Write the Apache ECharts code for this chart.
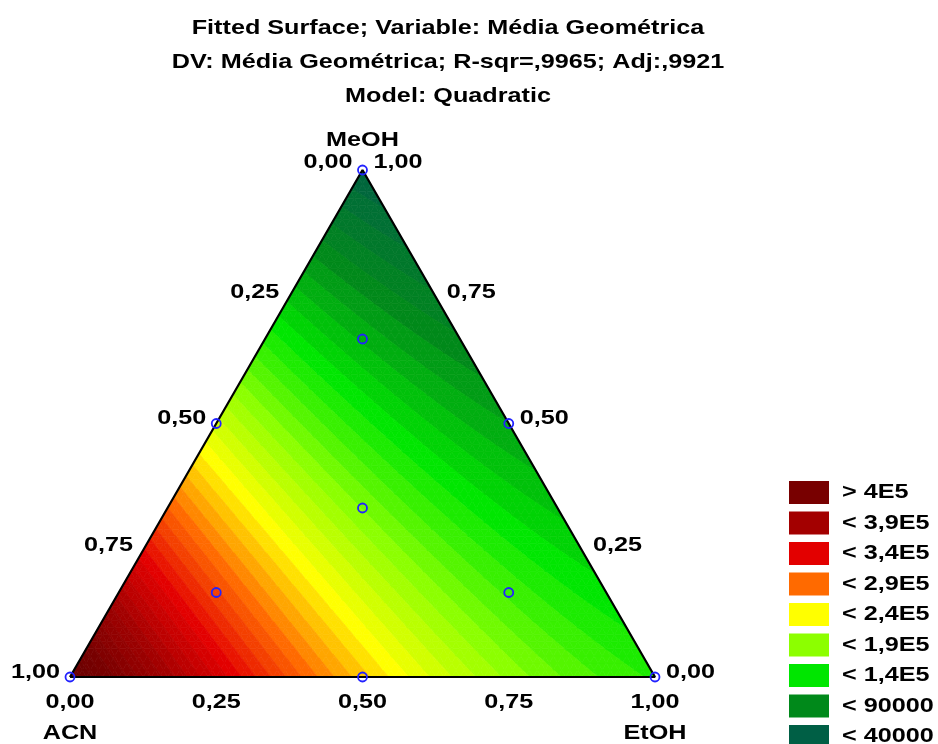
<!DOCTYPE html>
<html><head><meta charset="utf-8">
<script src="https://cdn.jsdelivr.net/npm/echarts@6/dist/echarts.min.js"></script>
<style>html,body{margin:0;padding:0;background:#fff}#c{width:938px;height:744px}</style>
</head><body><div id="c"></div>
<script>
// ---------------- data ----------------
const titleLines = ['Fitted Surface; Variable: Média Geométrica',
  'DV: Média Geométrica; R-sqr=,9965; Adj:,9921',
  'Model: Quadratic'];
const componentNames = ['ACN', 'EtOH', 'MeOH'];
const tickValues = [0, 0.25, 0.5, 0.75, 1];
const tickLabels = ['0,00', '0,25', '0,50', '0,75', '1,00'];
// estimated fitted values at the pure components: ACN, EtOH, MeOH
const vertexValues = [450000, 128000, 20000];
// estimated fitted values at the 50:50 blends: ACN-EtOH, ACN-MeOH, EtOH-MeOH
const blendValues = [234000, 194000, 80000];
// design points as fractions [ACN, EtOH, MeOH]
const designPoints = [[1,0,0],[0,1,0],[0,0,1],[0.5,0.5,0],[0.5,0,0.5],[0,0.5,0.5],
  [1/3,1/3,1/3],[2/3,1/6,1/6],[1/6,2/3,1/6],[1/6,1/6,2/3]];
const legendLabels = ['> 4E5','< 3,9E5','< 3,4E5','< 2,9E5','< 2,4E5','< 1,9E5','< 1,4E5','< 90000','< 40000'];
const legendColors = ['#780000','#a30000','#e30000','#ff6a00','#ffff00','#8cff00','#00e600','#00891a','#005f45'];
const legendLevelValues = [415000, 365000, 315000, 265000, 215000, 165000, 115000, 65000, 15000];
const contourStep = 10000;

// ---------------- model (Scheffé quadratic from the values above) ----------------
const H = Math.sqrt(3) / 2;
const b1 = vertexValues[0], b2 = vertexValues[1], b3 = vertexValues[2];
const b12 = 4 * blendValues[0] - 2 * (b1 + b2);
const b13 = 4 * blendValues[1] - 2 * (b1 + b3);
const b23 = 4 * blendValues[2] - 2 * (b2 + b3);
function model(a, e, m) { return b1*a + b2*e + b3*m + b12*a*e + b13*a*m + b23*e*m; }
function toXY(a, e, m) { return [e + m / 2, m * H]; }

function hex2rgb(h) { return [parseInt(h.substr(1,2),16), parseInt(h.substr(3,2),16), parseInt(h.substr(5,2),16)]; }
const stops = legendLevelValues.map((v, i) => ({ v: v, c: hex2rgb(legendColors[i]) })).sort((p, q) => p.v - q.v);
// deepen the colour beyond the top level, as in the surface near pure ACN
stops.push({ v: 465000, c: [0x62, 0, 0] });
function colorFor(v) {
  if (v <= stops[0].v) return 'rgb(' + stops[0].c.join(',') + ')';
  const last = stops[stops.length - 1];
  if (v >= last.v) return 'rgb(' + last.c.join(',') + ')';
  for (let i = 0; i < stops.length - 1; i++) {
    const s0 = stops[i], s1 = stops[i + 1];
    if (v >= s0.v && v <= s1.v) {
      const t = (v - s0.v) / (s1.v - s0.v);
      const c = s0.c.map((x, k) => Math.round(x + t * (s1.c[k] - x)));
      return 'rgb(' + c.join(',') + ')';
    }
  }
}

function clip(poly, lvl, keepAbove) {
  const out = [];
  for (let i = 0; i < poly.length; i++) {
    const P = poly[i], Q = poly[(i + 1) % poly.length];
    const pin = keepAbove ? P[2] >= lvl : P[2] <= lvl;
    const qin = keepAbove ? Q[2] >= lvl : Q[2] <= lvl;
    if (pin) out.push(P);
    if (pin !== qin) {
      const t = (lvl - P[2]) / (Q[2] - P[2]);
      out.push([P[0] + t * (Q[0] - P[0]), P[1] + t * (Q[1] - P[1]), lvl]);
    }
  }
  return out;
}

const N = 72;
function node(i, j) { // i: MeOH steps, j: EtOH steps
  const m = i / N, e = j / N, a = Math.max(0, 1 - m - e);
  const p = toXY(a, e, m);
  return [p[0], p[1], model(a, e, m)];
}
const polys = [];
function addTri(tri) {
  const vs = tri.map(p => p[2]);
  const k0 = Math.floor(Math.min.apply(null, vs) / contourStep);
  const k1 = Math.floor(Math.max.apply(null, vs) / contourStep);
  for (let k = k0; k <= k1; k++) {
    let pc = clip(tri, k * contourStep, true);
    if (pc.length < 3) continue;
    pc = clip(pc, (k + 1) * contourStep, false);
    if (pc.length < 3) continue;
    polys.push({ pts: pc.map(p => [p[0], p[1]]), color: colorFor((k + 0.5) * contourStep) });
  }
}
for (let i = 0; i < N; i++) {
  for (let j = 0; i + j < N; j++) {
    addTri([node(i, j), node(i, j + 1), node(i + 1, j)]);
    if (i + j + 2 <= N) addTri([node(i, j + 1), node(i + 1, j + 1), node(i + 1, j)]);
  }
}
const surfaceData = polys.map(p => {
  let cx = 0, cy = 0; p.pts.forEach(q => { cx += q[0]; cy += q[1]; });
  return [cx / p.pts.length, cy / p.pts.length];
});

// ---------------- labels (positioned through the axes) ----------------
const FONT = 'bold 21px "Liberation Sans", Arial, sans-serif';
const SX = 1.2;
const labels = [];
tickValues.forEach((t, i) => {
  // left edge: ACN fraction
  let p = toXY(t, 0, 1 - t);
  labels.push({ pos: p, text: tickLabels[i], align: 'right', dx: -10, dy: t === 0 ? -8 : -5 });
  // right edge: MeOH fraction
  p = toXY(0, 1 - t, t);
  labels.push({ pos: p, text: tickLabels[i], align: 'left', dx: 11, dy: t === 1 ? -8 : -5 });
  // bottom edge: EtOH fraction
  p = toXY(1 - t, t, 0);
  labels.push({ pos: p, text: tickLabels[i], align: 'center', dx: 0, dy: 25 });
});
labels.push({ pos: toXY(1, 0, 0), text: componentNames[0], align: 'center', dx: 0, dy: 56 });
labels.push({ pos: toXY(0, 1, 0), text: componentNames[1], align: 'center', dx: 0, dy: 56 });
labels.push({ pos: toXY(0, 0, 1), text: componentNames[2], align: 'center', dx: 0, dy: -30 });

function textEl(x, y, text, align) {
  return { type: 'text', x: x, y: y, scaleX: SX,
    style: { text: text, font: FONT, fill: '#000', align: align, textAlign: align,
      verticalAlign: 'middle', textVerticalAlign: 'middle' } };
}

// ---------------- graphic: title + legend ----------------
const graphics = [];
titleLines.forEach((t, i) => graphics.push(textEl(448, 28 + i * 34, t, 'center')));
legendLabels.forEach((t, i) => {
  const cy = 492.5 + i * 30.5;
  graphics.push({ type: 'rect', shape: { x: 789, y: cy - 11.5, width: 40, height: 23 },
    style: { fill: legendColors[i] } });
  graphics.push(textEl(842, cy, t, 'left'));
});

const chart = echarts.init(document.getElementById('c'), null, { renderer: 'canvas' });
chart.setOption({
  animation: false,
  backgroundColor: '#fff',
  grid: { left: 70, top: 170, width: 585, height: 507 },
  xAxis: { type: 'value', min: 0, max: 1, show: false },
  yAxis: { type: 'value', min: 0, max: H, show: false },
  graphic: { elements: graphics },
  series: [
    {
      type: 'custom', silent: true, z: 1,
      data: surfaceData,
      encode: { x: 0, y: 1 },
      renderItem: function (params, api) {
        const p = polys[params.dataIndex];
        return { type: 'polygon', shape: { points: p.pts.map(q => api.coord(q)) },
          style: { fill: p.color, stroke: p.color, lineWidth: 0.7 } };
      }
    },
    {
      type: 'line', z: 3, silent: true, symbol: 'none',
      data: [toXY(1,0,0), toXY(0,1,0), toXY(0,0,1), toXY(1,0,0)],
      lineStyle: { color: '#000', width: 2.2 }
    },
    {
      type: 'scatter', z: 4, silent: true, symbol: 'circle', symbolSize: 9,
      data: designPoints.map(d => toXY(d[0], d[1], d[2])),
      itemStyle: { color: 'rgba(0,0,0,0)', borderColor: '#2222ff', borderWidth: 1.8, opacity: 1 }
    },
    {
      type: 'custom', z: 5, silent: true,
      data: labels.map(l => l.pos),
      encode: { x: 0, y: 1 },
      renderItem: function (params, api) {
        const l = labels[params.dataIndex];
        const c = api.coord(l.pos);
        return textEl(c[0] + l.dx, c[1] + l.dy, l.text, l.align);
      }
    }
  ]
});
</script></body></html>
